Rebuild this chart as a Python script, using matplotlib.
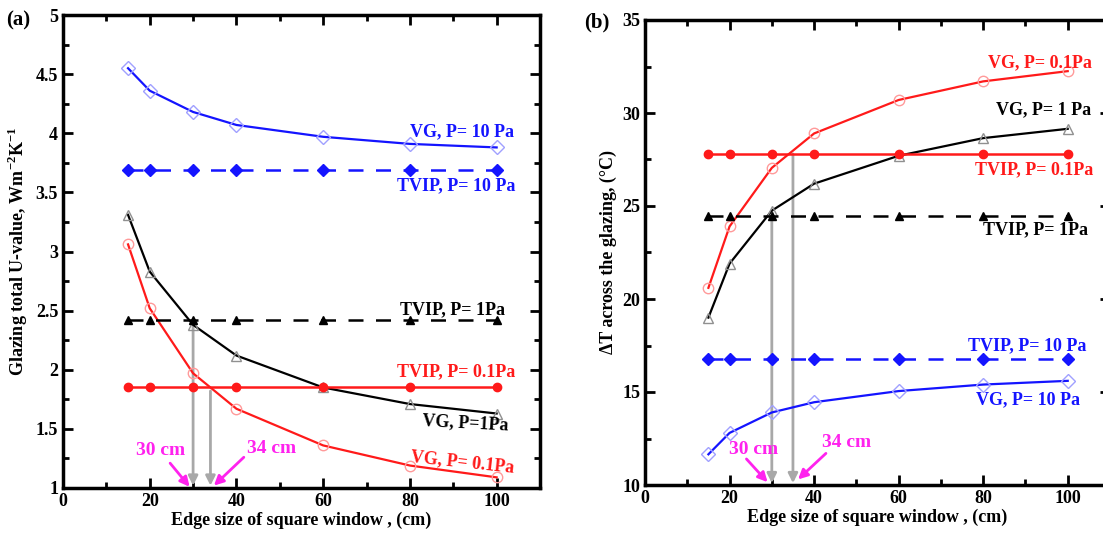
import matplotlib
matplotlib.use("Agg")
import matplotlib.pyplot as plt
from matplotlib.ticker import MultipleLocator

plt.rcParams['font.family'] = ['Liberation Serif', 'DejaVu Serif']
plt.rcParams['font.weight'] = 'bold'
plt.rcParams['mathtext.fontset'] = 'custom'
plt.rcParams['mathtext.rm'] = 'Liberation Serif:bold'
plt.rcParams['mathtext.bf'] = 'Liberation Serif:bold'

# window edge size (cm)
edge = [15, 20, 30, 40, 60, 80, 100]

# (a) glazing total U-value, W m-2 K-1
u_vg_10 = [4.55, 4.36, 4.18, 4.07, 3.97, 3.91, 3.88]
u_vg_1 = [3.31, 2.83, 2.38, 2.12, 1.85, 1.71, 1.63]
u_vg_01 = [3.06, 2.52, 1.97, 1.67, 1.36, 1.19, 1.09]
u_tvip_10 = 3.69
u_tvip_1 = 2.42
u_tvip_01 = 1.855

# (b) temperature difference across the glazing, C
dt_vg_01 = [20.6, 23.9, 27.05, 28.9, 30.7, 31.7, 32.25]
dt_vg_1 = [19.0, 21.9, 24.75, 26.2, 27.7, 28.65, 29.15]
dt_vg_10 = [11.65, 12.8, 13.9, 14.45, 15.05, 15.4, 15.6]
dt_tvip_01 = 27.8
dt_tvip_1 = 24.45
dt_tvip_10 = 16.75

RED = '#ff1a1a'
BLUE = '#1414ff'
BLACK = '#000000'
GRAY = '#a8a8a8'
PINK = '#ff22ee'

W, H = 1103, 541
fig = plt.figure(figsize=(W / 100, H / 100), dpi=100)


def box(l, r, t, b):
    return [l / W, (H - b) / H, (r - l) / W, (b - t) / H]


def style(ax, ymaj, ymin):
    ax.set_xlim(0, 110)
    ax.xaxis.set_major_locator(MultipleLocator(20))
    ax.xaxis.set_minor_locator(MultipleLocator(10))
    ax.yaxis.set_major_locator(MultipleLocator(ymaj))
    ax.yaxis.set_minor_locator(MultipleLocator(ymin))
    ax.tick_params(which='both', direction='in', top=True, right=True, width=2)
    ax.tick_params(which='major', length=7, labelsize=13)
    ax.tick_params(which='minor', length=4)
    for s in ax.spines.values():
        s.set_linewidth(2.5)
    ax.set_xlabel('Edge size of square window , (cm)', fontsize=13, fontweight='bold', labelpad=1)


def series(ax, y, color, mk, mcol):
    ax.plot(edge, y, '-', color=color, lw=1.6, marker=mk, ms=7.5,
            mfc='none', mec=mcol, mew=1.0, zorder=3)


def flat(ax, val, color, mk, dashed):
    ls = (0, (6, 5)) if dashed else '-'
    ax.plot(edge, [val] * len(edge), linestyle=ls, color=color, lw=1.8,
            marker=mk, ms=6, mfc=color, mec=color, zorder=3)


def down_arrow(ax, x, y0, y1):
    ax.annotate('', xy=(x, y1), xytext=(x, y0),
                arrowprops=dict(arrowstyle='-|>', color=GRAY, lw=2,
                                mutation_scale=14, shrinkA=0, shrinkB=0), zorder=2)


def pink_arrow(ax, txt, tx, ty, x0, y0, x1, y1):
    ax.text(tx, ty, txt, color=PINK, fontsize=14, fontweight='bold', ha='center', va='center')
    ax.annotate('', xy=(x1, y1), xytext=(x0, y0),
                arrowprops=dict(arrowstyle='-|>', color=PINK, lw=2,
                                mutation_scale=14, shrinkA=0, shrinkB=0))


# ---------------- panel (a)
ax1 = fig.add_axes(box(63, 540, 15, 488))
style(ax1, 0.5, 0.25)
ax1.set_ylim(1, 5)
ax1.set_yticks([1, 1.5, 2, 2.5, 3, 3.5, 4, 4.5, 5])
ax1.set_yticklabels(['1', '1.5', '2', '2.5', '3', '3.5', '4', '4.5', '5'])
ax1.set_ylabel('Glazing total U-value, Wm$^{-2}$K$^{-1}$', fontsize=13, fontweight='bold', labelpad=4)

series(ax1, u_vg_10, BLUE, 'D', '#a0a0ff')
series(ax1, u_vg_1, BLACK, '^', '#909090')
series(ax1, u_vg_01, RED, 'o', '#ff9a9a')
flat(ax1, u_tvip_10, BLUE, 'D', True)
flat(ax1, u_tvip_1, BLACK, '^', True)
flat(ax1, u_tvip_01, RED, 'o', False)

down_arrow(ax1, 30, 2.38, 1.02)
down_arrow(ax1, 34, 1.82, 1.02)
pink_arrow(ax1, '30 cm', 22.5, 1.32, 24.7, 1.21, 29.2, 1.01)
pink_arrow(ax1, '34 cm', 48.0, 1.33, 41.7, 1.26, 34.8, 1.02)

kw = dict(fontsize=13, fontweight='bold', ha='right', va='center')
ax1.text(104, 4.01, 'VG, P= 10 Pa', color=BLUE, **kw)
ax1.text(104.3, 3.56, 'TVIP, P= 10 Pa', color=BLUE, **kw)
ax1.text(102, 2.51, 'TVIP, P= 1Pa', color=BLACK, **kw)
ax1.text(104.3, 1.98, 'TVIP, P= 0.1Pa', color=RED, **kw)
ax1.text(102.8, 1.55, 'VG, P=1Pa', color=BLACK, rotation=-3, **kw)
ax1.text(104.3, 1.22, 'VG, P= 0.1Pa', color=RED, rotation=-6, **kw)

fig.text(6 / W, 1 - 20 / H, '(a)', fontsize=15, fontweight='bold', va='center')

# ---------------- panel (b)
ax2 = fig.add_axes(box(645, 1110, 20, 485))
style(ax2, 5, 2.5)
ax2.set_ylim(10, 35)
ax2.set_ylabel('\u0394T across the glazing, (\u00b0C)', fontsize=13, fontweight='bold', labelpad=4)

series(ax2, dt_vg_01, RED, 'o', '#ff9a9a')
series(ax2, dt_vg_1, BLACK, '^', '#909090')
series(ax2, dt_vg_10, BLUE, 'D', '#a0a0ff')
flat(ax2, dt_tvip_01, RED, 'o', False)
flat(ax2, dt_tvip_1, BLACK, '^', True)
flat(ax2, dt_tvip_10, BLUE, 'D', True)

down_arrow(ax2, 30, 24.7, 10.1)
down_arrow(ax2, 35, 27.8, 10.1)
pink_arrow(ax2, '30 cm', 25.7, 11.9, 24.0, 11.4, 29.0, 10.15)
pink_arrow(ax2, '34 cm', 47.7, 12.3, 42.8, 11.7, 36.2, 10.3)

ax2.text(105.6, 32.7, 'VG, P= 0.1Pa', color=RED, **kw)
ax2.text(105.6, 30.2, 'VG, P= 1 Pa', color=BLACK, **kw)
ax2.text(106, 26.95, 'TVIP, P= 0.1Pa', color=RED, **kw)
ax2.text(104.8, 23.7, 'TVIP, P= 1Pa', color=BLACK, **kw)
ax2.text(104.4, 17.5, 'TVIP, P= 10 Pa', color=BLUE, **kw)
ax2.text(103, 14.6, 'VG, P= 10 Pa', color=BLUE, **kw)

fig.text(584 / W, 1 - 22 / H, '(b)', fontsize=15, fontweight='bold', va='center')

fig.savefig('out.png', dpi=100)
